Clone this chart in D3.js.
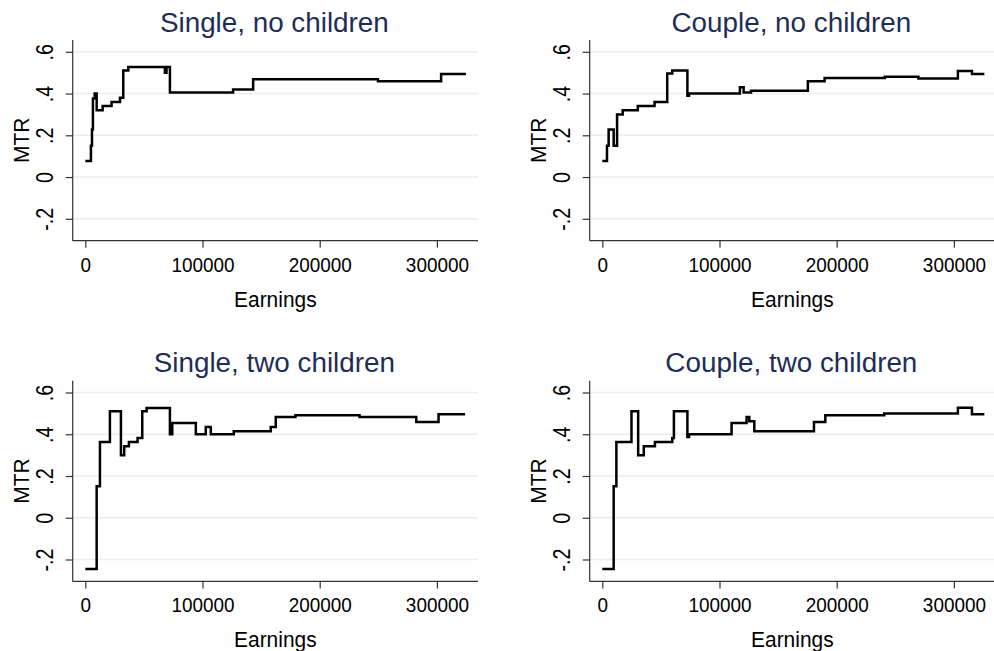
<!DOCTYPE html>
<html><head><meta charset="utf-8">
<script src="https://cdn.jsdelivr.net/npm/d3@7"></script>
<style>html,body{margin:0;padding:0;background:#fff;}svg{display:block;}</style>
</head><body>
<svg id="chart" width="994" height="651"></svg>
<script>
const titles = ["Single, no children", "Couple, no children", "Single, two children", "Couple, two children"];
const xTicks = [0, 100000, 200000, 300000];
const xTickLabels = ["0", "100000", "200000", "300000"];
const yTicks = [-0.2, 0, 0.2, 0.4, 0.6];
const yTickLabels = ["-.2", "0", ".2", ".4", ".6"];
const xTitle = "Earnings";
const yTitle = "MTR";

const singleNoKidsX = [0, 4800, 5700, 6500, 8000, 9700, 14800, 22400, 29600, 32400, 36700, 67900, 69300, 72200, 126100, 143200, 249700, 303600, 324800];
const singleNoKidsY = [0.077, 0.15, 0.228, 0.376, 0.40, 0.32, 0.34, 0.36, 0.38, 0.51, 0.527, 0.50, 0.527, 0.405, 0.42, 0.468, 0.459, 0.494, 0.494];

const coupleNoKidsX = [0, 4000, 5400, 9700, 12600, 17400, 30300, 44600, 55400, 59700, 72600, 74000, 117400, 120600, 126900, 175400, 189700, 241100, 269700, 303400, 315400, 326000];
const coupleNoKidsY = [0.077, 0.15, 0.228, 0.15, 0.30, 0.32, 0.34, 0.36, 0.496, 0.51, 0.39, 0.40, 0.43, 0.405, 0.414, 0.459, 0.475, 0.48, 0.472, 0.508, 0.494, 0.494];

const singleTwoKidsX = [0, 9700, 12500, 21000, 30400, 33200, 37200, 44600, 48600, 52300, 72200, 74200, 94300, 102800, 107100, 126700, 158200, 162500, 179300, 234000, 282400, 301400, 324100];
const singleTwoKidsY = [-0.245, 0.151, 0.363, 0.51, 0.30, 0.343, 0.363, 0.382, 0.51, 0.526, 0.40, 0.454, 0.40, 0.435, 0.40, 0.414, 0.435, 0.483, 0.491, 0.483, 0.459, 0.496, 0.496];

const coupleTwoKidsX = [0, 9700, 12000, 24900, 30600, 35400, 44900, 59700, 61100, 72600, 74000, 110300, 123100, 125400, 129700, 180600, 190300, 240600, 303400, 315400, 326000];
const coupleTwoKidsY = [-0.245, 0.151, 0.363, 0.51, 0.30, 0.343, 0.363, 0.382, 0.51, 0.387, 0.40, 0.454, 0.483, 0.462, 0.414, 0.459, 0.491, 0.499, 0.527, 0.496, 0.496];

const seriesX = [singleNoKidsX, coupleNoKidsX, singleTwoKidsX, coupleTwoKidsX];
const seriesY = [singleNoKidsY, coupleNoKidsY, singleTwoKidsY, coupleTwoKidsY];

const svg = d3.select("#chart");
const FONT = "'Liberation Sans', Arial, sans-serif";
const panelW = 405.3, panelH = 200.7;
const lefts = [72.7, 589.7, 72.7, 589.7];
const tops = [40, 40, 380.7, 380.7];

// squeeze text horizontally to match the reference's narrow rendering
function squeeze(sel, factor) {
  sel.each(function () {
    const w = this.getComputedTextLength();
    d3.select(this).attr("textLength", w * factor).attr("lengthAdjust", "spacingAndGlyphs");
  });
}

titles.forEach((t, i) => {
  const L = lefts[i], T = tops[i];
  const g = svg.append("g");
  const x = d3.scaleLinear().domain([0, 300000]).range([L + 12.6, L + 12.6 + 351.6]);
  const y = d3.scaleLinear().domain([-0.2, 0.6]).range([T + 178.8, T + 11.8]);

  // gridlines
  g.selectAll("line.grid").data(yTicks).enter().append("line")
    .attr("x1", L).attr("x2", L + panelW)
    .attr("y1", d => y(d)).attr("y2", d => y(d))
    .attr("stroke", "#e8eef1").attr("stroke-width", 1.5);

  // y axis
  const yAxis = d3.axisLeft(y).tickValues(yTicks).tickSize(7).tickSizeOuter(0)
    .tickFormat((d, k) => yTickLabels[k]);
  const ya = g.append("g").attr("transform", `translate(${L},0)`).call(yAxis);
  ya.select(".domain").attr("d", `M0,${T}V${T + panelH}`).attr("stroke", "#333").attr("stroke-width", 1.2);
  ya.selectAll(".tick line").attr("stroke", "#333").attr("stroke-width", 1.2);
  ya.selectAll(".tick text")
    .attr("x", null).attr("dy", null)
    .attr("transform", "translate(-20,0) rotate(-90)")
    .attr("text-anchor", "middle").attr("fill", "#000")
    .style("font-family", FONT).style("font-size", "24px")
    .call(squeeze, 0.82);

  // x axis
  const xAxis = d3.axisBottom(x).tickValues(xTicks).tickSize(7).tickSizeOuter(0)
    .tickFormat((d, k) => xTickLabels[k]);
  const xa = g.append("g").attr("transform", `translate(0,${T + panelH})`).call(xAxis);
  xa.select(".domain").attr("d", `M${L},0H${L + panelW}`).attr("stroke", "#333").attr("stroke-width", 1.2);
  xa.selectAll(".tick line").attr("stroke", "#333").attr("stroke-width", 1.2);
  xa.selectAll(".tick text")
    .attr("y", 31).attr("dy", null)
    .attr("fill", "#000")
    .style("font-family", FONT).style("font-size", "21px")
    .call(squeeze, 0.9);

  // axis titles
  g.append("text").attr("x", L + panelW / 2).attr("y", T + panelH + 66)
    .attr("text-anchor", "middle").style("font-family", FONT).style("font-size", "22px")
    .attr("fill", "#000").text(xTitle).call(squeeze, 0.95);
  g.append("text").attr("transform", `translate(${L - 44},${T + panelH / 2}) rotate(-90)`)
    .attr("text-anchor", "middle").style("font-family", FONT).style("font-size", "22px")
    .attr("fill", "#000").text(yTitle).call(squeeze, 0.95);

  // title
  g.append("text").attr("x", L + panelW / 2 - 1).attr("y", T - 8.3)
    .attr("text-anchor", "middle").style("font-family", FONT).style("font-size", "27px")
    .attr("fill", "#1e2d58").text(t).call(squeeze, 1.03);

  // line
  const pts = seriesX[i].map((xv, k) => [xv, seriesY[i][k]]);
  const line = d3.line().x(d => x(d[0])).y(d => y(d[1])).curve(d3.curveStepAfter);
  g.append("path").datum(pts).attr("d", line)
    .attr("fill", "none").attr("stroke", "#000").attr("stroke-width", 2.5)
    .attr("stroke-linejoin", "miter");
});
</script>
</body></html>
